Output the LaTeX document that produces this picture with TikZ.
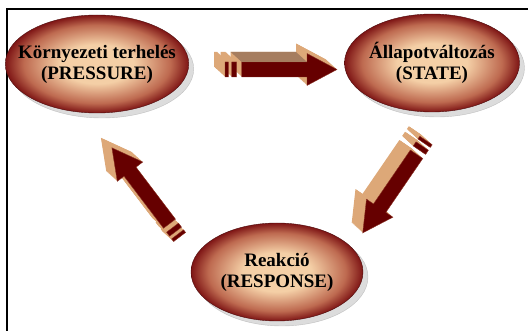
\documentclass[tikz,border=0pt]{standalone}
\usepackage{fontspec}
\setmainfont{Liberation Serif}
\usetikzlibrary{shapes.geometric,shadows}
\definecolor{Maroon}{HTML}{660000}
\definecolor{Tan}{HTML}{DDA878}
\definecolor{Bark}{HTML}{A67D5F}
\definecolor{Core}{HTML}{F4CFA6}
\definecolor{Mid}{HTML}{BE6A50}
\definecolor{Rim}{HTML}{7E1515}
\pgfdeclareradialshading{glow}{\pgfpoint{0bp}{0bp}}{color(0bp)=(Core); color(10bp)=(Core);
  color(20bp)=(Mid); color(25bp)=(Rim); color(50bp)=(Rim)}
\tikzset{bubble/.style={ellipse,draw=Rim!60!black,thin,shading=glow,
    minimum width=175pt,minimum height=98pt,inner xsep=-14pt,inner ysep=0pt,align=center,
    font=\bfseries\fontsize{19}{21}\selectfont,
    drop shadow={shadow xshift=5pt,shadow yshift=-5pt,fill=gray!55,draw=gray!80}},
  armside/.style={fill=Tan},
  armtop/.style={fill=Bark},
  armfront/.style={fill=Maroon,draw=Maroon!70!Tan,line width=0.4pt}}
% block arrow with a slanted back: #1 tail, #2 heading
\newcommand{\slab}[2]{%
  \foreach \k in {20,19,...,1}
    \fill[armside,shift={(#1)},shift={(-0.55*\k,-0.5*\k)},rotate=#2]
      (0,-7.5) rectangle (3.3,7.5) (6.7,-7.5) rectangle (11.7,7.5)
      (16.7,-7.5) -- (82,-7.5) -- (82,-16) -- (112,0) -- (82,16) -- (82,7.5) -- (16.7,7.5) -- cycle;
  \filldraw[armfront,shift={(#1)},rotate=#2]
    (0,-7.5) rectangle (3.3,7.5) (6.7,-7.5) rectangle (11.7,7.5)
    (16.7,-7.5) -- (82,-7.5) -- (82,-16) -- (112,0) -- (82,16) -- (82,7.5) -- (16.7,7.5) -- cycle;
}
\begin{document}
\begin{tikzpicture}[x=1pt,y=-1pt]
  \useasboundingbox (0,0) rectangle (528,331);
  \draw[line width=2pt] (7,331) -- (7,9) -- (528,9);
  \node[bubble] (pressure) at (97,64) {Környezeti terhelés\\(PRESSURE)};
  \node[bubble] (state) at (432,63) {Állapotváltozás\\(STATE)};
  \node[bubble,minimum width=172pt] (response) at (277,272) {Reakció\\(RESPONSE)};
  \coordinate (ps) at (225,69.5);
  \coordinate (sr) at (426,140.5);
  \coordinate (rp) at (179.6,237);
  \slab{ps}{0}
  \fill[armtop,shift={(ps)}] (16.7,-7.5) -- (82,-7.5) -- (71,-17.5) -- (5.7,-17.5) -- cycle;
  \slab{sr}{235.6}
  \slab{rp}{127.2}
\end{tikzpicture}
\end{document}
